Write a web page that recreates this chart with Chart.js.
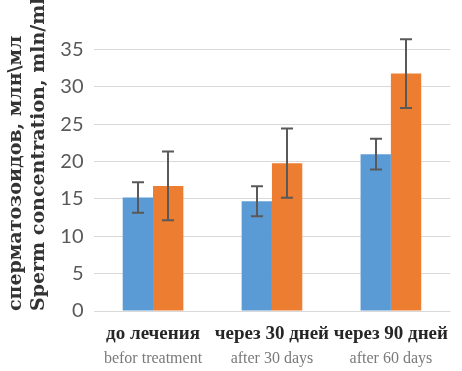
<!DOCTYPE html>
<html>
<head>
<meta charset="utf-8">
<script src="https://cdn.jsdelivr.net/npm/chart.js@4/dist/chart.umd.min.js"></script>
<style>
    html, body { margin: 0; padding: 0; background: #fff; }
    #wrap { width: 462px; height: 371px; }
</style>
</head>
<body>
<div id="wrap"><canvas id="chart"></canvas></div>
<script>
'use strict'

var categoriesRu = ['до лечения', 'через 30 дней', 'через 90 дней'];
var categoriesEn = ['befor treatment', 'after 30 days', 'after 60 days'];
var blueValues = [15.2, 14.7, 21.0];
var blueErrors = [2.05, 2.0, 2.05];
var orangeValues = [16.75, 19.8, 31.8];
var orangeErrors = [4.6, 4.65, 4.6];
var yTitle = ['сперматозоидов, млн\\мл', 'Sperm concentration, mln/ml'];

var errors = [blueErrors, orangeErrors];

// error bars drawn over the bars
var errorBars = {
    id: 'errorBars',
    afterDatasetsDraw: function (chart) {
        var ctx = chart.ctx;
        var y = chart.scales.y;
        ctx.save();
        ctx.strokeStyle = '#595959';
        ctx.lineWidth = 2;
        chart.data.datasets.forEach(function (ds, i) {
            var meta = chart.getDatasetMeta(i);
            meta.data.forEach(function (bar, j) {
                var v = ds.data[j], e = errors[i][j];
                var top = y.getPixelForValue(v + e);
                var bot = y.getPixelForValue(v - e);
                var x = Math.round(bar.x);
                ctx.beginPath();
                ctx.moveTo(x, top); ctx.lineTo(x, bot);
                ctx.moveTo(x - 6, top); ctx.lineTo(x + 6, top);
                ctx.moveTo(x - 6, bot); ctx.lineTo(x + 6, bot);
                ctx.stroke();
            });
        });
        ctx.restore();
    }
};

// english sub-labels under the russian category ticks
var subLabels = {
    id: 'subLabels',
    afterDraw: function (chart) {
        var ctx = chart.ctx;
        var x = chart.scales.x;
        ctx.save();
        ctx.font = '16px "Liberation Serif"';
        ctx.fillStyle = '#7a7a7a';
        ctx.textAlign = 'center';
        ctx.textBaseline = 'middle';
        categoriesEn.forEach(function (label, i) {
            ctx.fillText(label, x.getPixelForTick(i), x.top + 48);
        });
        ctx.restore();
    }
};

new Chart(document.getElementById('chart').getContext('2d'), {
    type: 'bar',
    data: {
        labels: categoriesRu,
        datasets: [
            {
                data: blueValues,
                backgroundColor: '#5B9BD5',
                categoryPercentage: 0.51,
                barPercentage: 1
            },
            {
                data: orangeValues,
                backgroundColor: '#ED7D31',
                categoryPercentage: 0.51,
                barPercentage: 1
            }
        ]
    },
    options: {
        responsive: true,
        maintainAspectRatio: false,
        animation: false,
        layout: { padding: { left: 4, right: 0, top: 0, bottom: 13 } },
        plugins: {
            legend: { display: false },
            tooltip: { enabled: false }
        },
        scales: {
            x: {
                grid: { display: false, drawTicks: false },
                border: { display: false },
                ticks: {
                    color: '#262626',
                    padding: 14,
                    maxRotation: 0,
                    autoSkip: false,
                    font: { family: 'Liberation Serif', size: 19, weight: 'bold', lineHeight: 1 }
                }
            },
            y: {
                min: 0,
                max: 38.7,
                afterBuildTicks: function (axis) {
                    axis.ticks = axis.ticks.filter(function (t) { return t.value % 5 === 0; });
                },
                grid: { color: '#d9d9d9', lineWidth: 1, drawTicks: false },
                border: { display: false },
                ticks: {
                    stepSize: 5,
                    color: '#595959',
                    padding: 10,
                    font: { family: 'Lato', size: 20 }
                },
                title: {
                    display: true,
                    text: yTitle,
                    align: 'start',
                    color: '#333',
                    padding: 0,
                    font: { family: 'DejaVu Serif', size: 19, weight: 'bold', lineHeight: 1.22 }
                }
            }
        }
    },
    plugins: [errorBars, subLabels]
});
</script>
</body>
</html>
